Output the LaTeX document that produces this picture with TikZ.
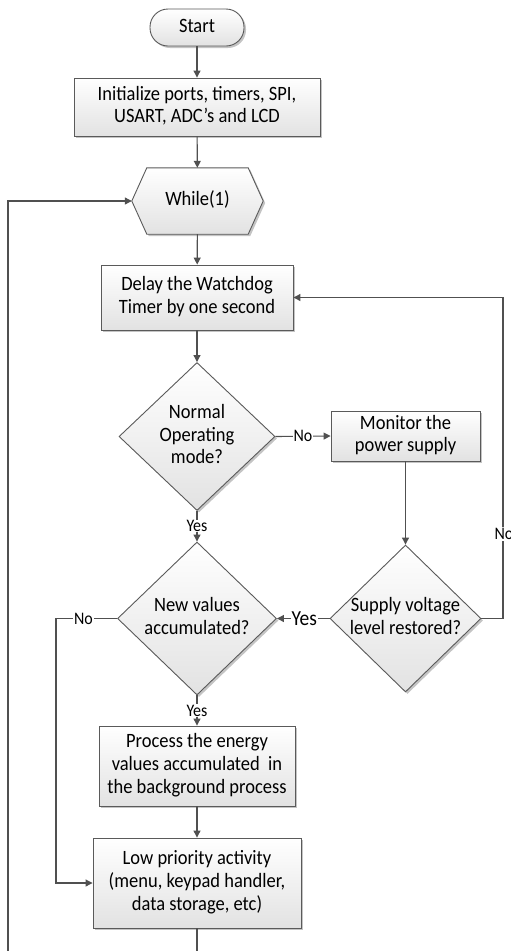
\documentclass[tikz,border=0pt]{standalone}
\usepackage{fontspec}
\setmainfont{Carlito}
\usetikzlibrary{shapes.geometric,shadows,arrows.meta}
\definecolor{edge}{HTML}{505050}
\definecolor{bord}{HTML}{5A5A5A}
\definecolor{shadeb}{HTML}{E2E2E2}
\definecolor{shd}{HTML}{C4C4C4}
\newcommand{\T}[1]{\scalebox{1}[1.1]{\begin{tabular}{@{}c@{}}#1\end{tabular}}}
\newcommand{\TL}[1]{\scalebox{1}[1.1]{#1}}
\tikzset{
  flowbox/.style={rectangle, draw=bord, line width=0.9pt, top color=white, bottom color=shadeb,
    drop shadow={shadow xshift=2pt, shadow yshift=-2pt, fill=shd, opacity=1},
    align=center, inner sep=0pt, font=\fontsize{18.5}{20.6}\selectfont},
  startbox/.style={flowbox, rounded corners=18pt},
  dia/.style={diamond, draw=bord, line width=0.9pt, top color=white, bottom color=shadeb,
    drop shadow={shadow xshift=2pt, shadow yshift=-2pt, fill=shd, opacity=1}, inner sep=0pt},
  txt/.style={align=center, inner sep=0pt, font=\fontsize{18.5}{20.6}\selectfont},
  conn/.style={draw=edge, line width=1.1pt, -{Triangle[length=7pt,width=7pt]}},
  plain/.style={draw=edge, line width=1.1pt},
  lbl/.style={fill=white, inner sep=1pt, font=\fontsize{16}{18}\selectfont, text=black},
  biglbl/.style={lbl, font=\fontsize{19.5}{22}\selectfont},
}
\begin{document}
\begin{tikzpicture}[x=1pt,y=-1pt]
\useasboundingbox (0,0) rectangle (511,951);
\clip (0,0) rectangle (511,951);
\fill[white] (0,0) rectangle (511,951);

% nodes
\node[startbox, minimum width=94pt, minimum height=37pt] (start) at (197,27.5) {\T{Start}};
\node[flowbox, minimum width=246pt, minimum height=58pt] (init) at (197,107) {\T{Initialize ports, timers, SPI,\\USART, ADC’s and LCD}};

% hexagon
\node[rectangle, minimum width=131pt, minimum height=66pt, inner sep=0pt] (hex) at (197.5,201) {};
\fill[shd] ([shift={(2,2)}]hex.west) -- ([shift={(17,2)}]hex.north west) -- ([shift={(-13,2)}]hex.north east)
  -- ([shift={(2,2)}]hex.east) -- ([shift={(-13,2)}]hex.south east) -- ([shift={(17,2)}]hex.south west) -- cycle;
\shade[top color=white, bottom color=shadeb, draw=bord, line width=0.9pt] (hex.west) -- ([xshift=15]hex.north west) -- ([xshift=-15]hex.north east)
  -- (hex.east) -- ([xshift=-15]hex.south east) -- ([xshift=15]hex.south west) -- cycle;
\node[txt] (hext) at (hex) {\T{While(1)}};

\node[flowbox, minimum width=192pt, minimum height=65pt] (delay) at (197,297.5) {\T{Delay the Watchdog\\Timer by one second}};

\node[dia, minimum width=156pt, minimum height=148pt] (d1) at (197,436.5) {};
\node[txt] (d1t) at (197,436.5) {\T{Normal\\Operating\\mode?}};

\node[flowbox, minimum width=149pt, minimum height=50pt] (mon) at (405.5,436) {\T{Monitor the\\power supply}};

\node[dia, minimum width=151pt, minimum height=147pt] (d2) at (405.5,618.5) {};
\node[txt] (d2t) at (405.5,618.5) {\T{Supply voltage\\level restored?}};

\node[dia, minimum width=159pt, minimum height=153pt] (d3) at (197,618.5) {};
\node[txt] (d3t) at (197,618.5) {\T{New values\\accumulated?}};

\node[flowbox, minimum width=196pt, minimum height=80pt] (proc) at (197,766) {\T{Process the energy\\values accumulated\ \ in\\the background process}};

\node[flowbox, minimum width=208pt, minimum height=90pt] (low) at (197,883) {\T{Low priority activity\\(menu, keypad handler,\\data storage, etc)}};

% coordinates
\coordinate (rturn) at (503,618.5);
\coordinate (lturn) at (56,618.5);
\coordinate (bottom) at (197,951);
\coordinate (lbot) at (8,951);
\coordinate (ltop) at (8,201);

% connectors
\draw[conn] (start) -- (init);
\draw[conn] (init) -- (hex);
\draw[conn] (hex) -- (delay);
\draw[conn] (delay) -- (d1);
\draw[conn] (d1.east) -- node[lbl] {\TL{No}} (mon.west);
\draw[conn] (d1.south) -- node[lbl, inner sep=0.5pt] {\TL{Yes}} (d3.north);
\draw[conn] (mon) -- (d2.north);
\draw[conn] (d2.west) -- node[biglbl, pos=0.48] {\TL{Yes}} (d3.east);
\draw[conn] (d2.east) -- (rturn) |- (delay.east);
\node[lbl] (nolbl) at (504,534) {\TL{No}};
\draw[conn] (d3.west) -- node[lbl, pos=0.55] {\TL{No}} (lturn) |- (low.west);
\draw[conn] (d3.south) -- node[lbl, inner sep=0.5pt] {\TL{Yes}} (proc.north);
\draw[conn] (proc) -- (low);
\draw[plain] (low.south) -- (bottom);
\draw[conn] (lbot) -- (ltop) -- (hex.west);
\end{tikzpicture}
\end{document}
